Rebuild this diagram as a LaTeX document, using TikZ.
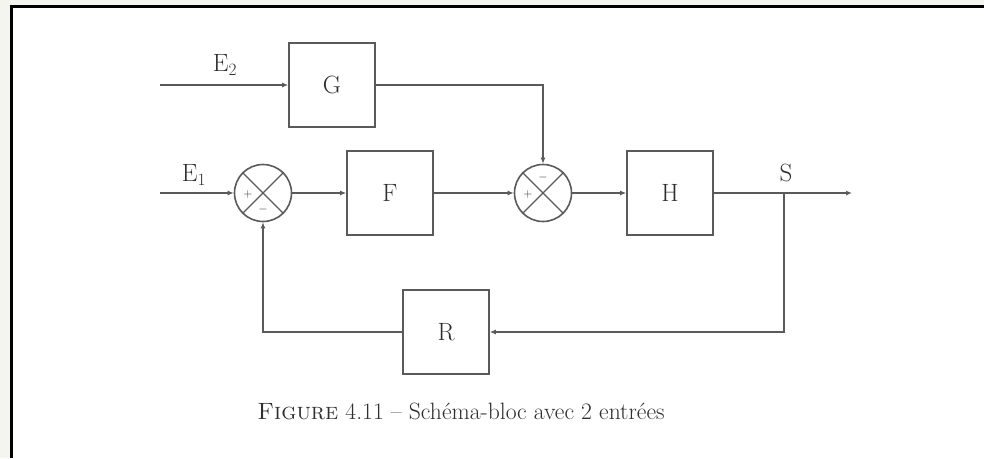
\documentclass[tikz,border=0pt]{standalone}
\usepackage{fontspec}
\usetikzlibrary{arrows.meta}
\definecolor{outside}{HTML}{F4F5EF}
\definecolor{ln}{HTML}{5A5A5A}
\definecolor{tx}{HTML}{2E2E2E}
\begin{document}
\begin{tikzpicture}[x=1pt,y=-1pt,
  blk/.style={draw=ln,line width=1.6pt,fill=white,minimum width=86pt,minimum height=84pt,inner sep=0pt,text=tx,font=\fontsize{25}{30}\selectfont},
  sumnode/.style={draw=ln,line width=1.6pt,circle,minimum size=57pt,inner sep=0pt},
  wire/.style={draw=ln,line width=1.6pt},
  arr/.style={wire,-{Latex[length=6pt,width=5pt]}},
  lbl/.style={text=tx,font=\fontsize{25}{30}\selectfont,inner sep=0pt},
  sgn/.style={text=tx,font=\fontsize{13}{15}\selectfont,inner sep=0pt}]
\useasboundingbox (0,0) rectangle (984,458);
\fill[outside] (0,0) rectangle (984,458);
\fill[white] (11.5,6.5) rectangle (984,458);
\draw[black,line width=3pt] (11.5,458) -- (11.5,6.5) -- (984,6.5);

\node[blk] (G) at (332,85) {G};
\node[blk] (F) at (390,193) {F};
\node[blk] (H) at (670,193) {H};
\node[blk] (R) at (446,332) {R};
\node[sumnode] (s1) at (263,193) {};
\node[sumnode] (s2) at (543,193) {};
\draw[wire,line width=1.2pt] (s1.45) -- (s1.225) (s1.135) -- (s1.315);
\draw[wire,line width=1.2pt] (s2.45) -- (s2.225) (s2.135) -- (s2.315);
\node[sgn] (s1p) at (248,194) {$+$};
\node[sgn] (s1m) at (263,209) {$-$};
\node[sgn] (s2m) at (543,177) {$-$};
\node[sgn] (s2p) at (528,194) {$+$};

\coordinate (e2) at (160,85);
\coordinate (e1) at (160,193);
\coordinate (br) at (784,193);
\coordinate (out) at (852,193);

\node[lbl] (lE2) at (225,65) {E$_2$};
\node[lbl] (lE1) at (194,175) {E$_1$};
\node[lbl] (lS) at (786,173) {S};

\draw[arr] (e2) -- (G.west);
\draw[arr] (G.east) -| (s2.north);
\draw[arr] (e1) -- (s1.west);
\draw[arr] (s1.east) -- (F.west);
\draw[arr] (F.east) -- (s2.west);
\draw[arr] (s2.east) -- (H.west);
\draw[arr] (H.east) -- (out);
\draw[arr] (br) |- (R.east);
\draw[arr] (R.west) -| (s1.south);

\node[text=tx,font=\fontsize{23.6}{28}\selectfont,inner sep=0pt] (cap) at (461,411) {\textsc{Figure} 4.11 -- Schéma-bloc avec 2 entrées};
\end{tikzpicture}
\end{document}
